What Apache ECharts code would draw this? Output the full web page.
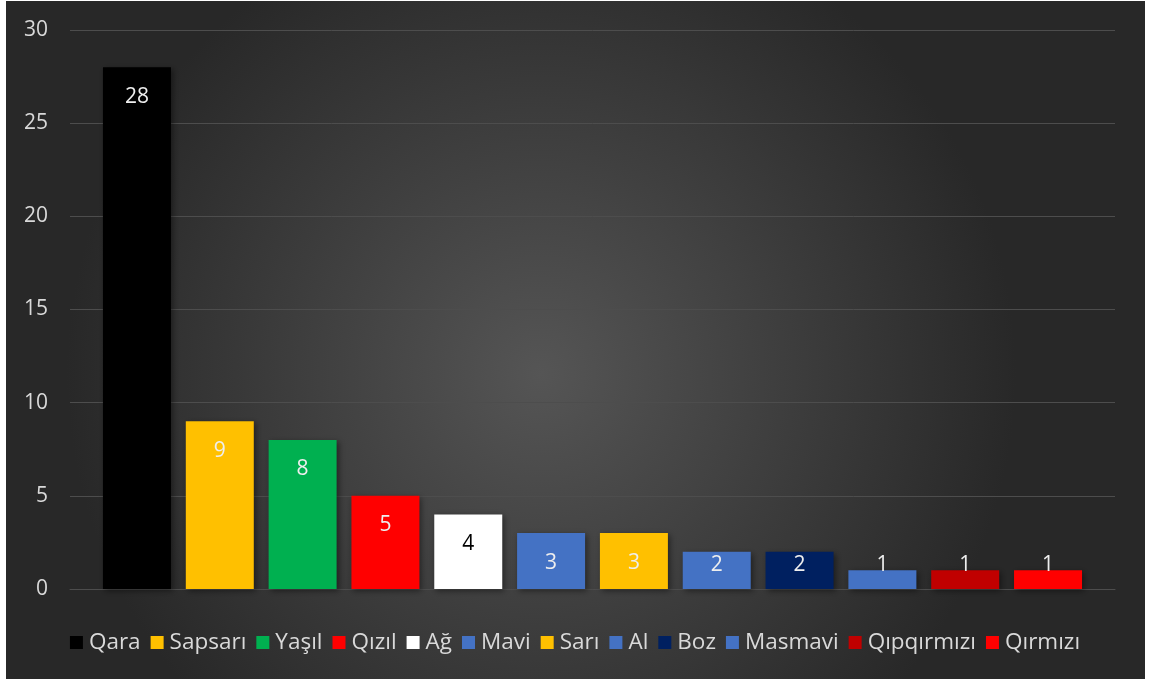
<!DOCTYPE html>
<html>
<head>
<meta charset="utf-8">
<script src="https://cdn.jsdelivr.net/npm/echarts@6/dist/echarts.min.js"></script>
<style>
html,body{margin:0;padding:0;background:#ffffff;}
#chart{width:1150px;height:681px;}
</style>
</head>
<body>
<div id="chart"></div>
<script>
const names = ["Qara","Sapsarı","Yaşıl","Qızıl","Ağ","Mavi","Sarı","Al","Boz","Masmavi","Qıpqırmızı","Qırmızı"];
const values = [28,9,8,5,4,3,3,2,2,1,1,1];
const colors = ["#000000","#FFC000","#00B050","#FF0000","#FFFFFF","#4472C4","#FFC000","#4472C4","#002060","#4472C4","#C00000","#FF0000"];
const yTicks = [0,5,10,15,20,25,30];

const chart = echarts.init(document.getElementById('chart'));
const series = names.map((n,i)=>({
  name: n,
  type: 'bar',
  data: [values[i]],
  barWidth: 68,
  barGap: '21.8%',
  itemStyle: {
    color: colors[i],
    shadowBlur: 6,
    shadowColor: 'rgba(0,0,0,0.45)',
    shadowOffsetX: 2,
    shadowOffsetY: 2
  },
  label: {
    show: true,
    position: values[i] >= 3 ? 'insideTop' : 'insideBottom',
    distance: values[i] >= 3 ? 19 : 13,
    color: colors[i] === '#FFFFFF' ? '#000000' : '#eeeeee',
    fontFamily: 'Open Sans',
    fontSize: 21
  }
}));

chart.setOption({
  animation: false,
  backgroundColor: 'transparent',
  graphic: [{
    type: 'rect',
    z: -10,
    silent: true,
    shape: {x: 6, y: 1, width: 1139, height: 678},
    style: {
      fill: new echarts.graphic.RadialGradient(0.47, 0.55, 0.7, [
        {offset: 0, color: '#555555'},
        {offset: 1, color: '#282828'}
      ])
    }
  }],
  grid: {left: 70, right: 35, top: 30, bottom: 92, containLabel: false},
  legend: {
    data: names,
    top: 626,
    left: 'center',
    itemWidth: 13,
    itemHeight: 13,
    itemGap: 10,
    icon: 'rect',
    textStyle: {color: '#d9d9d9', fontFamily: 'Open Sans', fontSize: 22.5, padding: [0,0,0,1]}
  },
  xAxis: {
    type: 'category',
    data: [''],
    axisLine: {show: true, lineStyle: {color: '#4d4d4d', width: 1}},
    axisTick: {show: false},
    axisLabel: {show: false}
  },
  yAxis: {
    type: 'value',
    min: yTicks[0],
    max: yTicks[yTicks.length-1],
    interval: 5,
    axisLine: {show: false},
    axisTick: {show: false},
    axisLabel: {color: '#d9d9d9', fontFamily: 'Open Sans', fontSize: 21, margin: 22},
    splitLine: {lineStyle: {color: '#4d4d4d', width: 1}}
  },
  series: series
});
</script>
</body>
</html>
